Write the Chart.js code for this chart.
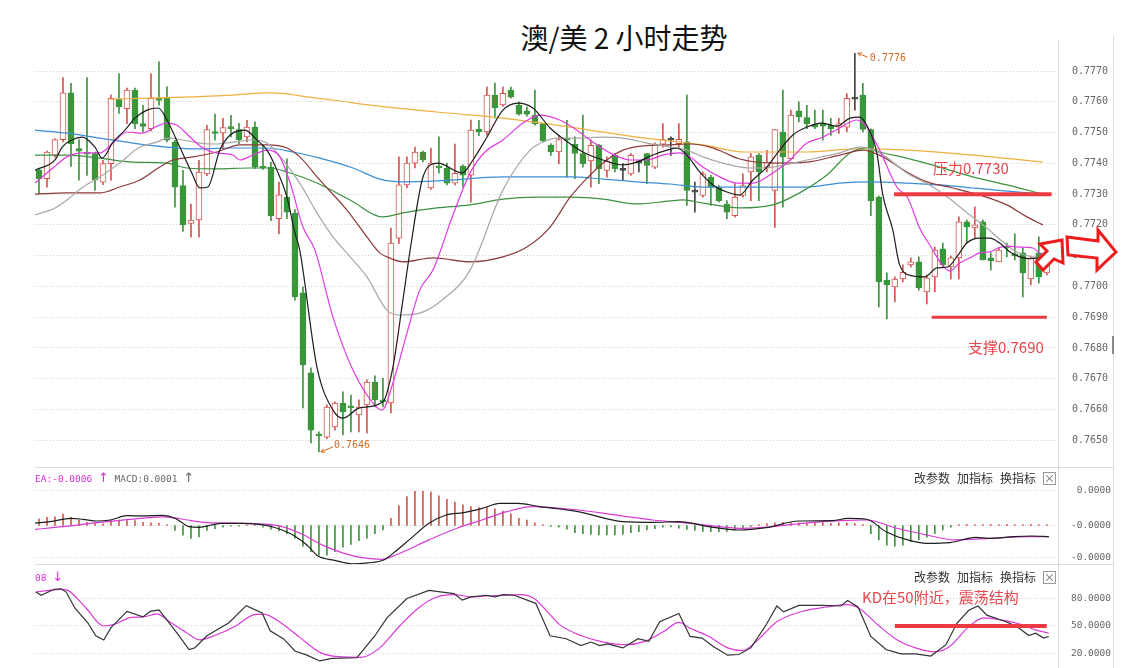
<!DOCTYPE html>
<html>
<head>
<meta charset="utf-8">
<script src="https://cdn.jsdelivr.net/npm/chart.js"></script>
<style>
body { margin: 0; background: #fff; width: 1123px; height: 668px; overflow: hidden; position: relative; font-family: "Noto Sans CJK SC", sans-serif; }
canvas { position: absolute; left: 0; }
.abs { position: absolute; white-space: nowrap; }
#title { left: 424px; width: 400px; top: 17px; text-align: center; font-size: 28px; line-height: 40px; color: #111; }
.note { font-size: 15px; line-height: 20px; color: #e8464c; }
.hdr { font-family: "DejaVu Sans Mono", monospace; font-size: 9.5px; line-height: 14px; }
.hdr .arr { font-family: "DejaVu Sans", sans-serif; font-size: 13px; line-height: 14px; }
.btn { font-size: 12px; line-height: 16px; color: #333; }
.xbox { width: 11px; height: 11px; border: 1px solid #999; font-size: 11px; line-height: 11px; text-align: center; color: #666; }
.line { position: absolute; background: #dcdcdc; }
</style>
</head>
<body>
<div id="title" class="abs">澳/美 2 小时走势</div>

<canvas id="mainChart" width="1123" height="427" style="top:40px"></canvas>
<canvas id="macdChart" width="1123" height="97" style="top:467px"></canvas>
<canvas id="kdChart" width="1123" height="104" style="top:564px"></canvas>

<div class="line" style="left:1058px;top:40px;width:1px;height:628px"></div>
<div class="line" style="left:1113px;top:36px;width:1px;height:632px"></div>
<div class="line" style="left:1112px;top:336px;width:2px;height:18px;background:#888"></div>
<div class="line" style="left:35px;top:467px;width:1078px;height:1px"></div>
<div class="line" style="left:35px;top:564px;width:1078px;height:1px"></div>

<div class="abs hdr" style="left:35px;top:471px"><span style="color:#dd2edd">EA:-0.0006 <span class="arr">↑</span></span> <span style="color:#666">MACD:0.0001 <span class="arr">↑</span></span></div>
<div class="abs hdr" style="left:35px;top:570px;color:#dd2edd">08 <span class="arr">↓</span></div>

<div class="abs btn" style="left:914px;top:470px">改参数</div>
<div class="abs btn" style="left:957px;top:470px">加指标</div>
<div class="abs btn" style="left:1000px;top:470px">换指标</div>
<div class="abs xbox" style="left:1043px;top:472px">×</div>
<div class="abs btn" style="left:914px;top:569px">改参数</div>
<div class="abs btn" style="left:957px;top:569px">加指标</div>
<div class="abs btn" style="left:1000px;top:569px">换指标</div>
<div class="abs xbox" style="left:1043px;top:571px">×</div>

<div class="abs note" style="left:933px;top:158px">压力0.7730</div>
<div class="abs note" style="left:968px;top:337px">支撑0.7690</div>
<div class="abs note" style="left:862px;top:587px">KD在50附近，震荡结构</div>

<svg class="abs" style="left:0;top:0" width="1123" height="668">
  <polygon points="1062,240 1040,244 1047,251 1036,262 1043,270 1054,259 1063,263" fill="#fff" stroke="#ee1c1c" stroke-width="3" stroke-linejoin="miter"/>
  <polygon points="1067,237 1098,241 1098,230 1116,252 1097,270 1097,258 1068,255" fill="#fff" stroke="#ee1c1c" stroke-width="3" stroke-linejoin="miter"/>
</svg>

<script>
// 2h candles, index 0..126
const candleOpen = [.77379,.77350,.77427,.77477,.77629,.77448,.77435,.77432,.77339,.77399,.77608,.77578,.77638,.77529,.77513,.77611,.77611,.77470,.77328,.77205,.77216,.77366,.77502,.77499,.77518,.77510,.77486,.77518,.77388,.77388,.77220,.77290,.77238,.76979,.76719,.76520,.76510,.76543,.76621,.76608,.76582,.76615,.76689,.76628,.76621,.77157,.77330,.77401,.77437,.77320,.77391,.77385,.77336,.77391,.77362,.77511,.77502,.77622,.77590,.77638,.77589,.77571,.77557,.77529,.77459,.77437,.77478,.77462,.77432,.77408,.77459,.77377,.77426,.77379,.77366,.77403,.77432,.77388,.77462,.77477,.77464,.77470,.77308,.77296,.77355,.77323,.77268,.77230,.77296,.77372,.77426,.77388,.77312,.77502,.77415,.77571,.77549,.77527,.77532,.77524,.77518,.77518,.77611,.77622,.77510,.77290,.77021,.76998,.77024,.77070,.77080,.76982,.77031,.77122,.77063,.77093,.77210,.77190,.77210,.77093,.77080,.77128,.77106,.77109,.77024,.77109,.77044];
const candleHigh = [.77383,.77440,.77480,.77679,.77660,.77477,.77679,.77437,.77410,.77622,.77692,.77645,.77645,.77589,.77692,.77730,.77649,.77475,.77377,.77268,.77410,.77524,.77560,.77546,.77556,.77530,.77540,.77535,.77459,.77404,.77339,.77415,.77250,.76998,.76735,.76527,.76615,.76625,.76657,.76647,.76631,.76696,.76709,.76702,.77190,.77421,.77421,.77453,.77440,.77450,.77486,.77401,.77463,.77395,.77541,.77540,.77648,.77661,.77648,.77648,.77600,.77584,.77638,.77530,.77464,.77491,.77540,.77486,.77557,.77477,.77462,.77421,.77432,.77399,.77432,.77410,.77432,.77466,.77529,.77486,.77529,.77622,.77339,.77372,.77361,.77328,.77279,.77334,.77366,.77432,.77432,.77442,.77510,.77638,.77573,.77600,.77589,.77573,.77573,.77546,.77546,.77627,.77758,.77660,.77512,.77294,.77044,.77031,.77070,.77093,.77096,.77037,.77128,.77141,.77099,.77226,.77216,.77258,.77216,.77109,.77125,.77141,.77171,.77125,.77096,.77161,.77096];
const candleLow = [.77301,.77323,.77420,.77470,.77390,.77345,.77361,.77312,.77331,.77345,.77562,.77529,.77513,.77502,.77505,.77589,.77470,.77258,.77179,.77160,.77160,.77360,.77475,.77448,.77486,.77464,.77470,.77383,.77380,.77214,.77171,.77220,.76955,.76605,.76491,.76462,.76505,.76533,.76517,.76527,.76527,.76524,.76608,.76608,.76589,.77140,.77320,.77385,.77405,.77315,.77368,.77330,.77330,.77323,.77274,.77490,.77492,.77547,.77585,.77612,.77557,.77553,.77524,.77470,.77426,.77399,.77355,.77350,.77388,.77323,.77334,.77355,.77372,.77345,.77361,.77372,.77334,.77383,.77453,.77426,.77453,.77263,.77241,.77290,.77263,.77274,.77220,.77225,.77290,.77279,.77279,.77372,.77192,.77258,.77410,.77535,.77513,.77513,.77475,.77491,.77497,.77502,.77573,.77502,.77230,.76933,.76894,.76950,.77015,.77063,.76988,.76943,.76982,.77063,.77024,.77024,.77141,.77157,.77086,.77053,.77080,.77096,.77086,.76966,.77005,.77011,.77037];
const candleClose = [.77350,.77437,.77477,.77629,.77464,.77440,.77430,.77345,.77399,.77611,.77584,.77638,.77529,.77520,.77611,.77605,.77475,.77323,.77201,.77216,.77372,.77510,.77497,.77516,.77513,.77477,.77518,.77388,.77385,.77230,.77298,.77241,.76966,.76745,.76533,.76514,.76608,.76621,.76592,.76605,.76608,.76689,.76631,.76625,.77141,.77330,.77401,.77437,.77411,.77401,.77385,.77336,.77368,.77362,.77508,.77502,.77622,.77580,.77628,.77615,.77560,.77560,.77529,.77473,.77437,.77477,.77475,.77432,.77399,.77459,.77383,.77408,.77383,.77377,.77426,.77401,.77393,.77462,.77477,.77475,.77478,.77312,.77306,.77366,.77323,.77279,.77241,.77290,.77328,.77421,.77372,.77404,.77510,.77421,.77557,.77551,.77529,.77518,.77521,.77513,.77529,.77611,.77609,.77510,.77279,.77015,.77005,.77024,.77046,.77080,.76995,.77028,.77118,.77070,.77093,.77210,.77193,.77200,.77086,.77083,.77118,.77125,.77099,.77044,.77093,.77031,.77086];

// moving averages as [candle index, price]
const maBlack = [[-0.5,.77378],[2,.77411],[2.9,.77453],[4.1,.77476],[5.4,.77485],[7,.77453],[7.9,.77417],[9.25,.77469],[10.75,.77508],[12,.77547],[13.5,.77573],[14.9,.7758],[16,.77541],[17.6,.77453],[19.1,.77369],[20.1,.7732],[21.1,.77323],[22.6,.77443],[23.9,.77492],[25.75,.77508],[27.25,.77476],[28.5,.77443],[29.75,.77378],[31,.7729],[32,.77174],[32.6,.77118],[34.75,.76738],[36.75,.76598],[38,.76572],[40.1,.76605],[43,.76625],[44.25,.76738],[45.5,.76956],[46.4,.77118],[47.9,.77346],[48.9,.77395],[49.9,.77401],[52.9,.77369],[54.25,.77411],[56,.77485],[58,.77573],[59.9,.77596],[61.75,.7758],[63.9,.77515],[65.75,.77476],[68,.77437],[70.5,.77411],[73,.77395],[74.75,.77404],[76.75,.77427],[78.5,.77443],[79.75,.7745],[81,.77427],[82.6,.77372],[84.25,.7733],[86,.77307],[87.6,.77297],[89.25,.77346],[91,.77388],[92.6,.77443],[94.25,.77492],[96,.77518],[97.9,.77531],[99.75,.77521],[101.4,.77547],[102.6,.7755],[103.6,.77518],[104.75,.77434],[105.5,.77297],[106.75,.77183],[107.6,.7707],[109.25,.77034],[110.75,.77031],[112.25,.7706],[113.6,.77063],[114.9,.77102],[116,.77141],[117.6,.77157],[118.9,.77157],[120.1,.77141],[121.4,.77112],[122.6,.77096],[123.9,.7709],[124.9,.77093]];
const maMagenta = [[-0.5,.77336],[1.75,.77385],[3.5,.77421],[5.5,.77434],[7.6,.77434],[9.25,.77466],[11,.77502],[13,.77498],[14.25,.77515],[16,.77531],[17.25,.77524],[18.9,.77485],[20.5,.7745],[22.25,.77434],[24.25,.77427],[25.1,.77411],[26.75,.77427],[28.5,.77443],[30.1,.77421],[31.4,.77336],[33,.77193],[34.5,.77118],[36.75,.769],[39.25,.76728],[41.75,.76621],[42.9,.76598],[44.25,.76686],[46,.76848],[47.6,.76988],[49.25,.77053],[51.75,.77232],[53.9,.77369],[55.75,.77437],[58,.77476],[60.5,.77531],[62.6,.77557],[65.1,.77541],[67.25,.77508],[68.9,.77476],[71.4,.77434],[73.9,.77411],[76,.77411],[78,.77427],[80.1,.77434],[81.4,.77421],[83,.77388],[85.1,.77356],[87.25,.77336],[89.25,.77336],[91.75,.77369],[93.9,.77411],[96,.77466],[98,.77485],[100.1,.77515],[102.25,.77541],[103.5,.77518],[105.1,.77443],[107.25,.77323],[108.6,.77288],[110.1,.7719],[111.6,.77125],[112.9,.7707],[113.9,.7705],[115.1,.77076],[116.4,.77093],[117.6,.77109],[118.9,.77112],[119.9,.77125],[121,.77131],[122.6,.77128],[124.25,.77125],[125.5,.77096]];
const maGrey = [[-0.5,.77232],[2,.77255],[3.5,.77281],[5.5,.77323],[7.6,.77356],[10.1,.77401],[12.6,.77453],[14.75,.77469],[16,.77482],[18,.77476],[20.1,.77466],[22.25,.77463],[24.25,.77469],[26.75,.77476],[28.5,.77466],[30.5,.77411],[32.6,.77336],[34.75,.77239],[36.75,.77161],[38.9,.77096],[41,.77031],[43.5,.76923],[45.1,.76907],[47.6,.76913],[50.75,.76963],[53.9,.77053],[58,.77313],[61.4,.77443],[63,.77469],[64.75,.77482],[67.25,.77482],[70.5,.77485],[73,.77482],[76,.77466],[78.9,.77453],[81,.77443],[83,.77421],[85.5,.77401],[88.9,.77385],[91.75,.77388],[96,.77411],[100.1,.77434],[102.6,.77453],[105.1,.77434],[108.5,.77369],[111.75,.77323],[113.25,.77297],[116.4,.77232],[118.5,.7719],[120.5,.77145],[122.25,.77112],[124.25,.77096],[125.5,.7709]];
const maBrown = [[-0.5,.773],[3.5,.77304],[7.6,.77304],[10.1,.77323],[12.6,.77346],[15.1,.77388],[16.75,.77411],[19.25,.77421],[22.25,.77437],[25.1,.7746],[28.5,.7746],[31,.7745],[32.6,.77421],[35.1,.77346],[38.5,.77248],[41,.77161],[42.6,.77109],[43.5,.77096],[45.5,.7708],[49.25,.77093],[53.9,.7708],[58,.77096],[61,.77128],[63.9,.77193],[66.4,.7729],[68.9,.77362],[71,.77411],[73,.77443],[75.5,.77457],[78.9,.7746],[81.4,.77463],[83.9,.77453],[85.5,.77437],[87.5,.77415],[91.75,.77401],[96,.77404],[100.1,.77427],[103,.77443],[105.5,.77421],[108.5,.77372],[111,.7734],[114.25,.7732],[117.6,.77297],[121,.77265],[123.5,.77226],[125.5,.772]];
const maGreen = [[-0.5,.77427],[3.5,.77427],[7.6,.77417],[11.75,.77404],[16,.77401],[18.5,.77385],[22.25,.77382],[26.4,.77385],[28.9,.77385],[31,.77372],[34.75,.77336],[38.9,.77281],[43,.77226],[45.5,.77239],[49.75,.77255],[53.9,.77265],[58,.77284],[62.25,.7729],[66.4,.7729],[70.5,.77284],[74.75,.77268],[78.9,.77278],[80.5,.77281],[83,.77271],[87.6,.77255],[91.75,.77265],[95.1,.77304],[98.5,.77362],[101.4,.77434],[103.5,.7745],[105.1,.77437],[108.5,.77417],[112.6,.77388],[116.75,.77356],[121,.7733],[125.5,.773]];
const maBlue = [[-0.5,.77508],[3.5,.77498],[7.6,.77482],[11.75,.77466],[16,.77453],[20.1,.77447],[24.25,.7745],[28.5,.7745],[31.75,.77437],[35.1,.77417],[39.25,.77385],[42.6,.77349],[45.5,.7734],[49.75,.77343],[58,.77356],[66.4,.77356],[70.5,.77349],[74.75,.7734],[78.9,.77333],[83,.77323],[88.9,.77323],[96,.77323],[100.1,.77336],[103.9,.7734],[108.5,.77336],[112.6,.7733],[116.75,.7732],[121,.7731],[125.5,.773]];
const maOrange = [[8.9,.77609],[13.9,.77612],[19.25,.77616],[24.25,.77622],[28.5,.77629],[31,.77626],[33.5,.77616],[36.75,.77606],[41.4,.77589],[49.75,.77567],[58,.77547],[66.4,.77518],[74.75,.77485],[83,.7746],[88.25,.77437],[96,.77437],[102.25,.77447],[108.5,.77443],[116.75,.77427],[125.5,.77404]];

// drawn levels: [from index, to index, price]
const pressureLine = [106.9, 126.6, 0.7730];
const supportLine = [111.6, 126.0, 0.7690];
const priceTicks = [0.7650, 0.7660, 0.7670, 0.7680, 0.7690, 0.7700, 0.7710, 0.7720, 0.7730, 0.7740, 0.7750, 0.7760, 0.7770];

// MACD in units of 0.00001
const macdHist = [0.72,0.9,0.97,1.26,0.9,0.61,0.36,0.25,0.18,0.54,0.61,0.54,0.54,0.36,0.29,0.25,0.1,
  -0.54,-1.08,-1.44,-1.26,-0.54,-0.36,-0.18,-0.07,-0.07,0.07,0.07,
  -0.18,-0.4,-0.6,-0.9,-1.4,-2.3,-2.9,-3.3,-3.3,-2.9,-2.4,-2.1,-1.7,-1.4,-0.9,-0.5,
  0.8,2.2,3.2,3.8,3.8,3.7,3.3,2.9,2.6,2.3,2.1,2.0,2.0,1.85,1.6,1.3,0.8,0.6,0.3,0.1,
  -0.1,-0.2,-0.4,-0.8,-0.9,-1.0,-1.05,-1.05,-1.05,-1.0,-0.8,-0.7,
  -0.5,-0.35,-0.2,-0.15,-0.3,-0.45,-0.55,-0.65,-0.7,-0.7,-0.65,-0.5,-0.3,
  -0.1,0.1,0.2,0.3,0.35,0.3,0.3,0.25,0.3,0.3,0.25,0.3,0.3,0.2,0.1,
  -0.9,-1.6,-2.2,-2.3,-2.2,-1.8,-1.6,-1.3,-0.9,-0.5,-0.2,
  0.1,0.12,0.1,0.1,0.12,0.1,0.12,0.1,0.1,0.12,0.1,0.1];
const macdDif = [[-0.5,0.27],[1.4,0.42],[4,0.8],[5.5,0.69],[7.25,0.5],[8.9,0.61],[11,1.09],[13,1.06],[15.5,1.12],[17,0.8],[17.9,0.3],[18.75,-0.13],[20.1,-0.2],[21.6,0.06],[22.75,0.24],[25.5,0.24],[28.1,0.06],[30.4,-0.5],[32.1,-1.24],[33.5,-2.17],[34.9,-3.4],[37.1,-3.9],[39.1,-4.25],[41.1,-4.15],[43.1,-3.83],[44.25,-3.1],[46.5,-1.43],[48.75,0.24],[50.9,1.17],[53.1,1.43],[55.4,1.9],[57.6,2.46],[59.9,2.46],[62.6,2.1],[67.4,1.54],[73,0.43],[76.75,0.35],[80,0.43],[83.75,-0.13],[87.5,-0.5],[90.9,-0.24],[95,0.5],[99.25,0.54],[101.1,0.8],[103.5,0.69],[105.9,-0.69],[108.6,-1.6],[111,-1.98],[113.9,-1.9],[117.1,-1.31],[119,-1.43],[121.9,-1.24],[124.1,-1.17],[126.25,-1.24]];
const macdDea = [[-0.5,-0.43],[3,-0.13],[7.25,0.31],[11.4,0.69],[15.5,0.95],[17.6,0.75],[21,0.31],[26.4,0.24],[30.4,-0.13],[33.1,-1.06],[35.25,-2.1],[37.5,-2.9],[39.75,-3.46],[42.9,-3.76],[44.6,-3.28],[48.75,-1.6],[52.25,-0.31],[55.4,0.61],[58.5,1.54],[61.6,2.1],[67.4,1.72],[72,1.17],[76.75,0.61],[81.4,0.24],[85.1,-0.13],[88,-0.31],[91.75,-0.13],[95.5,0.24],[100.25,0.54],[103.5,0.61],[107.25,-0.31],[111,-1.06],[114.4,-1.6],[119,-1.43],[123.75,-1.24],[126.25,-1.24]];
const macdTicks = [3.9, -0.05, -3.6];

const kdK = [[-0.4,87],[0.25,83.5],[1.9,90],[2.75,90.6],[3.4,87],[4.5,69.4],[6.1,53.5],[7.1,39.4],[8.1,34.8],[9,48.2],[11,65.9],[13,59.9],[13.9,65.9],[15,67.6],[16.1,55.3],[17.5,39.4],[18.75,24.2],[19.5,26.3],[21,39.4],[23.75,53.5],[25.9,72.2],[27.9,64.1],[28.9,44.7],[30.6,35.9],[32,22.8],[33.5,18.2],[35.1,11.9],[36.6,14.7],[39.75,15.4],[42,39.4],[43.5,58.8],[46,80],[48.75,88.8],[50.9,86.4],[51.9,85.3],[52.9,78.2],[54,81.8],[55.9,83.5],[57,81.8],[58.1,84.2],[59.4,83.5],[62.1,74.7],[63.9,39.4],[65.9,36.1],[67.75,28.6],[69,32.5],[70.1,28.6],[71.1,30.4],[73,26.1],[74.9,36.1],[76.25,33.2],[77.6,54.6],[80,63.6],[81.4,38.6],[82.9,36.8],[84.25,27.9],[86.1,18.2],[87.5,18.9],[89,26.1],[90.9,51.1],[92.25,71.8],[93.1,65.4],[95,72.5],[97.9,72.5],[100.25,71.8],[101.1,77.8],[102.4,70.7],[104,38.6],[105.9,24.3],[107.75,19.6],[109.6,19.6],[111.5,17.2],[113.4,29.6],[114.75,52.9],[116.25,67.1],[117.4,71.8],[118.5,61.8],[120.9,54.6],[122.25,49.3],[123.75,39.6],[124.6,42.1],[125.6,36.8],[126.25,38.6]];
const kdD = [[-0.4,87],[2.75,90],[3.6,88.8],[5.9,69.4],[8.1,50],[9.4,51.8],[11.6,59.5],[13,59.9],[14.75,63],[16.5,53.5],[18.4,42.9],[20.1,34.8],[21.9,39.4],[24.6,50],[26.9,62.4],[28.1,63],[30.4,52.5],[32.6,37.6],[35.25,20.7],[37.5,16.5],[40.25,15.8],[42.5,25.3],[45.1,50],[47.4,69.4],[49.6,81.1],[51.9,84.2],[54,81.8],[57.6,83.5],[60.25,84.2],[61.9,80],[63.9,62.4],[65.1,51.5],[67.75,39.6],[70.6,32.5],[73.4,29.6],[75.75,33.2],[78.1,43.9],[80,53.9],[81.4,47.5],[83.75,38.6],[86.1,26.1],[88,23.2],[89.9,35],[92.25,54.6],[95.5,66.1],[98.4,70.7],[101.1,73.2],[102.6,68.9],[104.9,51.1],[107.25,35],[109.6,26.1],[112,21.8],[113.9,27.9],[116.25,49.3],[118.1,58.9],[120.4,56.4],[122.75,51.8],[124.6,45.7],[126.25,42.1]];
const kdLevel = [107.0, 126.0, 50];
const kdTicks = [80, 50, 20];

const xMin = -0.5, xMax = 127.4;
const upColor = '#d9534f', downColor = '#3b963b', dojiColor = '#444';
const redMark = '#ec3b42';

const pts = arr => arr.map(([x, y]) => ({x, y}));
const level = ([a, b, v]) => [{x: a, y: v}, {x: b, y: v}];

function maLine(data, color, order) {
    return {type: 'line', data: pts(data), borderColor: color, borderWidth: 1.2,
        pointRadius: 0, cubicInterpolationMode: 'monotone', order: order};
}

function sideAxis(min, max, tickValues, fmt, width, fontSize, cross) {
    return {
        position: 'right', min: min, max: max,
        afterBuildTicks: s => { s.ticks = tickValues.map(v => ({value: v})); },
        // keep the label padding horizontal only
        afterFit: s => { s.width = width; s.paddingTop = 0; s.paddingBottom = 0; },
        grid: {color: '#d0d0d0', drawTicks: false},
        border: {display: false, dash: [1, 2]},
        ticks: {padding: 14, color: '#666', crossAlign: cross,
            font: {family: 'DejaVu Sans Mono', size: fontSize},
            callback: v => fmt(Number(v))}
    };
}

const xAxis = {type: 'linear', min: xMin, max: xMax, offset: false, display: false};

const baseOptions = {
    responsive: false, animation: false, events: [],
    plugins: {legend: {display: false}, tooltip: {enabled: false}}
};

const idx = candleOpen.map((_, i) => i);
const candleColor = idx.map(i => {
    const d = candleClose[i] - candleOpen[i];
    if (Math.abs(d) < 0.000025) return dojiColor;
    return d > 0 ? upColor : downColor;
});
const bodyFill = idx.map(i => candleColor[i] === upColor ? '#fff' : candleColor[i]);

function arrowTo(ctx, x1, y1, x2, y2) {
    ctx.beginPath();
    ctx.moveTo(x1, y1);
    ctx.lineTo(x2, y2);
    ctx.stroke();
    const a = Math.atan2(y2 - y1, x2 - x1);
    ctx.beginPath();
    ctx.moveTo(x2, y2);
    ctx.lineTo(x2 - 4 * Math.cos(a - 0.5), y2 - 4 * Math.sin(a - 0.5));
    ctx.moveTo(x2, y2);
    ctx.lineTo(x2 - 4 * Math.cos(a + 0.5), y2 - 4 * Math.sin(a + 0.5));
    ctx.stroke();
}

const extremeLabels = {
    id: 'extremeLabels',
    afterDatasetsDraw(chart) {
        const {ctx, scales: {x, y}} = chart;
        const hi = candleHigh.indexOf(Math.max(...candleHigh));
        const lo = candleLow.indexOf(Math.min(...candleLow));
        ctx.save();
        ctx.strokeStyle = '#d2691e';
        ctx.fillStyle = '#d2691e';
        ctx.lineWidth = 1;
        ctx.font = '10px "DejaVu Sans Mono"';
        ctx.textBaseline = 'middle';
        let px = x.getPixelForValue(hi), py = y.getPixelForValue(candleHigh[hi]);
        arrowTo(ctx, px + 13, py + 4, px + 3, py);
        ctx.fillText(candleHigh[hi].toFixed(4), px + 15, py + 5);
        px = x.getPixelForValue(lo);
        py = y.getPixelForValue(candleLow[lo]);
        arrowTo(ctx, px + 14, py - 5, px + 2, py);
        ctx.fillText(candleLow[lo].toFixed(4), px + 15, py - 7);
        ctx.restore();
    }
};

new Chart(document.getElementById('mainChart'), {
    type: 'bar',
    data: {
        datasets: [
            {type: 'line', data: level(pressureLine), borderColor: redMark, borderWidth: 4, pointRadius: 0, order: 0},
            {type: 'line', data: level(supportLine), borderColor: redMark, borderWidth: 3, pointRadius: 0, order: 0},
            maLine(maBlack, '#1e1e1e', 1),
            maLine(maMagenta, '#e03ce0', 2),
            maLine(maGrey, '#a8a8a8', 3),
            maLine(maBrown, '#8c3a3a', 4),
            maLine(maGreen, '#3d9140', 5),
            maLine(maBlue, '#3b8fd6', 6),
            maLine(maOrange, '#f0b040', 7),
            {data: idx.map(i => ({x: i, y: [candleOpen[i], candleClose[i]]})),
                backgroundColor: bodyFill, borderColor: candleColor, borderWidth: 1, borderSkipped: false,
                barThickness: 6, minBarLength: 2, grouped: false, order: 10},
            {data: idx.map(i => ({x: i, y: [candleLow[i], candleHigh[i]]})),
                backgroundColor: candleColor, barThickness: 1, grouped: false, order: 11}
        ]
    },
    options: Object.assign({}, baseOptions, {
        layout: {padding: {left: 35, right: 0, top: 0, bottom: 0}},
        scales: {
            x: xAxis,
            y: sideAxis(0.76413, 0.77801, priceTicks, v => v.toFixed(4), 65, 10, 'near')
        }
    }),
    plugins: [extremeLabels]
});

new Chart(document.getElementById('macdChart'), {
    type: 'bar',
    data: {
        datasets: [
            maLine(macdDif, '#1e1e1e', 1),
            maLine(macdDea, '#d83ad8', 2),
            {data: idx.map(i => ({x: i, y: macdHist[i]})),
                backgroundColor: macdHist.map(v => v >= 0 ? '#d9534f' : '#3b963b'),
                barThickness: 1, grouped: false, order: 5}
        ]
    },
    options: Object.assign({}, baseOptions, {
        layout: {padding: {left: 35, right: 12, top: 0, bottom: 0}},
        scales: {
            x: xAxis,
            y: sideAxis(-4.28, 6.5, macdTicks, v => (v * 1e-5).toFixed(4), 53, 9.5, 'far')
        }
    })
});

new Chart(document.getElementById('kdChart'), {
    type: 'line',
    data: {
        datasets: [
            {data: level(kdLevel), borderColor: redMark, borderWidth: 4, pointRadius: 0, order: 0},
            Object.assign(maLine(kdK, '#333333', 1), {cubicInterpolationMode: 'default', tension: 0}),
            maLine(kdD, '#d83ad8', 2)
        ]
    },
    options: Object.assign({}, baseOptions, {
        layout: {padding: {left: 35, right: 12, top: 0, bottom: 0}},
        scales: {
            x: xAxis,
            y: sideAxis(4.2, 117.6, kdTicks, v => v.toFixed(4), 53, 9.5, 'far')
        }
    })
});
</script>
</body>
</html>
